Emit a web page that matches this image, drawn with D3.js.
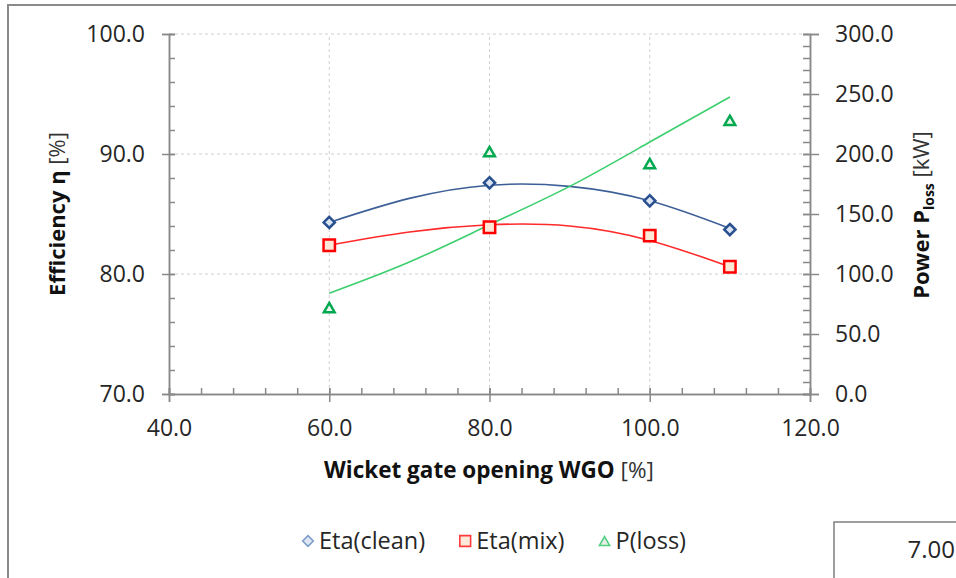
<!DOCTYPE html>
<html>
<head>
<meta charset="utf-8">
<script src="https://cdn.jsdelivr.net/npm/d3@7"></script>
<style>
  body { margin: 0; background: #fff; }
  svg { display: block; font-family: "Open Sans", sans-serif; }
</style>
</head>
<body>
<div id="chart"></div>
<script>
// measured points
const wgo = [60, 80, 100, 110];
const etaClean = [84.3, 87.6, 86.1, 83.7];
const etaMix = [82.4, 83.9, 83.2, 80.6];
const pLoss = [72, 202, 192, 228];

// trend lines
const trendX = [60, 70, 80, 90, 100, 110];
const trendClean = [84.3, 86.3, 87.4, 87.3, 86.1, 83.8];
const trendMix = [82.4, 83.5, 84.1, 84.0, 82.8, 80.6];
const trendLoss = [84, 110, 141, 173, 210, 247.5];

const xTicks = [40, 60, 80, 100, 120];
const yLeftTicks = [70, 80, 90, 100];
const yRightTicks = [0, 50, 100, 150, 200, 250, 300];

const width = 956, height = 578,
      margin = ({top: 34, right: 146, bottom: 184, left: 169});

let svg = d3.select("#chart")
    .append("svg")
    .attr("width", width)
    .attr("height", height)
    .attr("viewBox", [0, 0, width, height]);

// outer frame of the chart object
svg.append("rect")
    .attr("x", 8).attr("y", 5)
    .attr("width", 1100).attr("height", 700)
    .attr("fill", "none")
    .attr("stroke", "#8a8a8a")
    .attr("stroke-width", 2);

let x = d3.scaleLinear()
    .domain([40, 120])
    .range([margin.left, width - margin.right]);

let yL = d3.scaleLinear()
    .domain([70, 100])
    .range([height - margin.bottom, margin.top]);

let yR = d3.scaleLinear()
    .domain([0, 300])
    .range([height - margin.bottom, margin.top]);

const axisColor = "#898989";
const gridColor = "#cfcfcf";

// grid
svg.append("g")
    .selectAll("line")
    .data([80, 90, 100])
    .join("line")
    .attr("x1", x(40)).attr("x2", x(120))
    .attr("y1", d => yL(d)).attr("y2", d => yL(d))
    .attr("stroke", gridColor)
    .attr("stroke-dasharray", "3,3");

svg.append("g")
    .selectAll("line")
    .data([60, 80, 100])
    .join("line")
    .attr("x1", d => x(d)).attr("x2", d => x(d))
    .attr("y1", yL(70)).attr("y2", yL(100))
    .attr("stroke", gridColor)
    .attr("stroke-dasharray", "3,3");

// axes
function styleAxis(g) {
    g.select(".domain").attr("stroke", axisColor).attr("stroke-width", 1.5);
    g.selectAll(".tick line").attr("stroke", axisColor).attr("stroke-width", 1.5);
    g.selectAll("text").attr("fill", "#262626").attr("font-size", 23)
        .attr("font-family", "'Open Sans', sans-serif");
}

// minor ticks (inside)
svg.append("g")
    .attr("transform", `translate(${x(40)},0)`)
    .call(d3.axisRight(yL).tickValues(d3.range(70, 100.1, 2)).tickSize(6).tickFormat(""))
    .call(styleAxis);
svg.append("g")
    .attr("transform", `translate(${x(120)},0)`)
    .call(d3.axisLeft(yR).tickValues(d3.range(0, 300.1, 10)).tickSize(7).tickFormat(""))
    .call(styleAxis);
svg.append("g")
    .attr("transform", `translate(0,${yL(70)})`)
    .call(d3.axisTop(x).tickValues(d3.range(40, 120.1, 4)).tickSize(6).tickFormat(""))
    .call(styleAxis);

// major ticks (crossing)
svg.append("g")
    .attr("transform", `translate(${x(40)},0)`)
    .call(d3.axisLeft(yL).tickValues(yLeftTicks).tickSize(7).tickPadding(17).tickFormat(d3.format(".1f")))
    .call(styleAxis)
    .call(g => g.selectAll(".tick line").attr("x2", -7).attr("x1", 6));

svg.append("g")
    .attr("transform", `translate(${x(120)},0)`)
    .call(d3.axisRight(yR).tickValues(yRightTicks).tickSize(9).tickPadding(16).tickFormat(d3.format(".1f")))
    .call(styleAxis)
    .call(g => g.selectAll(".tick line").attr("x1", -7).attr("x2", 9));

svg.append("g")
    .attr("transform", `translate(0,${yL(70)})`)
    .call(d3.axisBottom(x).tickValues(xTicks).tickSize(8).tickPadding(18).tickFormat(d3.format(".1f")))
    .call(styleAxis)
    .call(g => g.selectAll(".tick line").attr("y1", -6));

// axis titles
const xTitle = svg.append("text")
    .attr("x", 489).attr("y", 478)
    .attr("text-anchor", "middle")
    .attr("font-size", 22.5)
    .attr("fill", "#111");
xTitle.append("tspan").attr("font-weight", "bold").text("Wicket gate opening WGO ");
xTitle.append("tspan").attr("fill", "#333").text("[%]");

const yTitle = svg.append("text")
    .attr("transform", "translate(65,214) rotate(-90)")
    .attr("text-anchor", "middle")
    .attr("font-size", 22)
    .attr("fill", "#111");
yTitle.append("tspan").attr("font-weight", "bold").text("Efficiency η ");
yTitle.append("tspan").attr("fill", "#333").text("[%]");

const yRTitle = svg.append("text")
    .attr("transform", "translate(929,215) rotate(-90)")
    .attr("text-anchor", "middle")
    .attr("font-size", 22)
    .attr("fill", "#111");
yRTitle.append("tspan").attr("font-weight", "bold").text("Power P");
yRTitle.append("tspan").attr("font-weight", "bold").attr("font-size", 14).attr("dy", 5).text("loss");
yRTitle.append("tspan").attr("fill", "#333").attr("dy", -5).text(" [kW]");

// trend lines
const trendLine = (yScale, vals) => d3.line()
    .x((d, i) => x(trendX[i]))
    .y((d, i) => yScale(vals[i]))
    .curve(d3.curveNatural)(vals);

svg.append("path").attr("d", trendLine(yL, trendClean))
    .attr("fill", "none").attr("stroke", "#3d5f97").attr("stroke-width", 1.6);
svg.append("path").attr("d", trendLine(yL, trendMix))
    .attr("fill", "none").attr("stroke", "#ff2a2a").attr("stroke-width", 1.6);
svg.append("path").attr("d", trendLine(yR, trendLoss))
    .attr("fill", "none").attr("stroke", "#3ccf6e").attr("stroke-width", 1.6);

// markers
const series = [
    {name: "Eta(clean)", vals: etaClean, y: yL, type: d3.symbolDiamond2, size: 80,
     stroke: "#284f8f", fill: "#dbe5f1", lstroke: "#7f9cc9", lfill: "#dde7f3", dy: 0},
    {name: "Eta(mix)", vals: etaMix, y: yL, type: d3.symbolSquare, size: 130,
     stroke: "#ff0000", fill: "#fde7d6", lstroke: "#ff3b3b", lfill: "#fde9d9", dy: 0},
    {name: "P(loss)", vals: pLoss, y: yR, type: d3.symbolTriangle2, size: 82,
     stroke: "#00a84f", fill: "#eef7ee", lstroke: "#4fd07f", lfill: "#e8ece8", dy: 1.5}
];

for (let s of series) {
    svg.append("g")
        .selectAll("path")
        .data(s.vals)
        .join("path")
        .attr("transform", (d, i) => `translate(${x(wgo[i])},${s.y(d) + s.dy})`)
        .attr("d", d3.symbol().type(s.type).size(s.size))
        .attr("fill", s.fill)
        .attr("stroke", s.stroke)
        .attr("stroke-width", 2.5);
}

// legend
let legend = svg.append("g");
let lx = 0;
const gap = 34;
for (let s of series) {
    let item = legend.append("g").attr("transform", `translate(${lx},0)`);
    item.append("path")
        .attr("transform", `translate(6,${s.dy})`)
        .attr("d", d3.symbol().type(s.type).size(s.size * 0.9))
        .attr("fill", s.lfill)
        .attr("stroke", s.lstroke)
        .attr("stroke-width", 1.6);
    let t = item.append("text")
        .attr("x", 17).attr("y", 8)
        .attr("font-size", 23.5)
        .attr("fill", "#262626")
        .text(s.name);
    lx += 17 + t.node().getComputedTextLength() + gap;
}
lx -= gap;
legend.attr("transform", `translate(${494 - lx / 2},541)`);

// data label box cut at the corner
svg.append("rect")
    .attr("x", 834).attr("y", 522)
    .attr("width", 200).attr("height", 100)
    .attr("fill", "#fff")
    .attr("stroke", "#7f7f7f")
    .attr("stroke-width", 1.5);
svg.append("text")
    .attr("x", 955).attr("y", 558)
    .attr("text-anchor", "end")
    .attr("font-size", 24)
    .attr("fill", "#262626")
    .text("7.00");
</script>
</body>
</html>
